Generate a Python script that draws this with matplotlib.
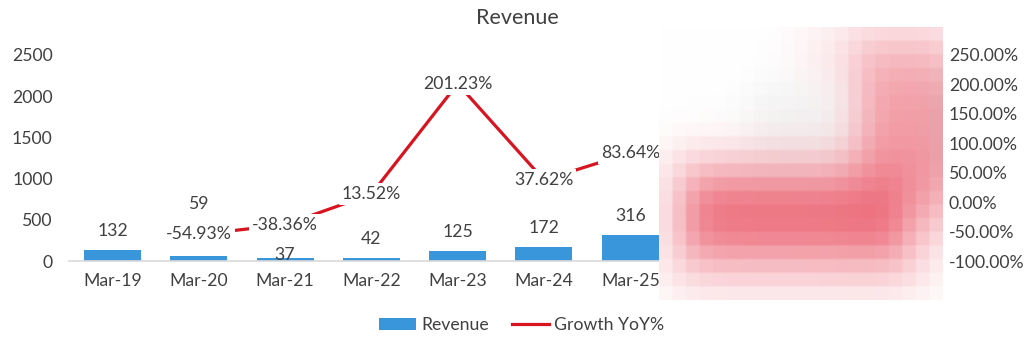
import numpy as np
import matplotlib.pyplot as plt
from matplotlib.patches import Patch
from matplotlib.lines import Line2D

plt.rcParams['font.family'] = ['Lato', 'DejaVu Sans']

categories = ['Mar-19', 'Mar-20', 'Mar-21', 'Mar-22', 'Mar-23', 'Mar-24', 'Mar-25']
revenue = [132, 59, 37, 42, 125, 172, 316]
growth = [None, -54.93, -38.36, 13.52, 201.23, 37.62, 83.64]
n_slots = 10  # the plot area leaves room for three more periods

# vertical nudges (pixels) for the revenue labels so they clear the growth labels
rev_label_offset = [19, 52, 3, 19, 19, 19, 19]

bar_color = '#3a96db'
line_color = '#d7141f'
text_color = '#404040'
fs = 12.7

fig = plt.figure(figsize=(10.29, 3.49), dpi=100)
ax = fig.add_axes([69.3 / 1029, 1 - 261 / 349, 863 / 1029, 206 / 349])
ax2 = ax.twinx()

x = np.arange(len(categories))
ax.bar(x, revenue, width=0.66, color=bar_color, zorder=2)
for xi, v, off in zip(x, revenue, rev_label_offset):
    ax.annotate(str(v), (xi, v), xytext=(0, off), textcoords='offset pixels',
                ha='center', va='center', fontsize=fs, color=text_color)

gx = [xi for xi, g in zip(x, growth) if g is not None]
gy = [g for g in growth if g is not None]
ax2.plot(gx, gy, color=line_color, lw=2.3, zorder=3)
for xi, g in zip(gx, gy):
    ax2.text(xi, g, f'{g:.2f}%', ha='center', va='center', fontsize=fs,
             color=text_color, zorder=4,
             bbox=dict(facecolor='white', edgecolor='none', pad=2))

ax.set_xlim(-0.5, n_slots - 0.5)
ax.set_ylim(0, 2500)
ax.set_yticks(range(0, 2501, 500))
ax2.set_ylim(-100, 250)
ax2.set_yticks(range(-100, 251, 50))
ax2.set_yticklabels([f'{t:.2f}%' for t in range(-100, 251, 50)])
ax.set_xticks(x)
ax.set_xticklabels(categories)

for a in (ax, ax2):
    for s in a.spines.values():
        s.set_visible(False)
    a.tick_params(length=0, labelsize=fs, colors=text_color)
ax.spines['bottom'].set_visible(True)
ax.spines['bottom'].set_color('#d9d9d9')
ax.spines['bottom'].set_linewidth(1.2)
ax.tick_params(axis='y', pad=12)
ax.tick_params(axis='x', pad=9)
ax2.tick_params(axis='y', pad=12)

fig.text(0.503, 1 - 18 / 349, 'Revenue', ha='center', va='center',
         fontsize=15.5, color=text_color)

handles = [Patch(facecolor=bar_color, label='Revenue'),
           Line2D([], [], color=line_color, lw=2.3, label='Growth YoY%')]
leg = fig.legend(handles=handles, loc='center', bbox_to_anchor=(0.507, 1 - 325 / 349),
                 ncol=2, frameon=False, fontsize=fs, handlelength=2.1,
                 handleheight=0.7, columnspacing=1.3, handletextpad=0.3)
for t in leg.get_texts():
    t.set_color(text_color)

# pixelated patch over the right-hand part of the plot
px0, px1, py0, py1 = 659, 943, 27, 300
nx, ny = 21, 20
cx = px0 + (np.arange(nx) + 0.5) * (px1 - px0) / nx
cy = py0 + (np.arange(ny) + 0.5) * (py1 - py0) / ny
X, Y = np.meshgrid(cx, cy)


def box(v, a, b, w):
    return 1 / (1 + np.exp(-(v - a) / w)) / (1 + np.exp(-(b - v) / w))


layers = [
    box(X, 688, 902, 10) * box(Y, 182, 250, 12) * 0.85,  # main band
    box(X, 668, 925, 14) * box(Y, 150, 288, 12) * 0.33,  # band halo
    box(X, 850, 955, 10) * box(Y, 40, 230, 16) * 0.4,    # right column
    box(X, 872, 950, 8) * box(Y, 75, 200, 14) * 0.35,    # right column core
    box(X, 800, 955, 12) * box(Y, 22, 80, 10) * 0.12,    # faint top
]
r = 1 - np.prod([1 - l for l in layers], axis=0)
grey = (box(X, 750, 845, 12) * box(Y, 85, 160, 12)
        + box(X, 928, 960, 5) * box(Y, 80, 170, 12)) * 0.05
deep = np.array([0.92, 0.37, 0.43])
img = 1 - r[..., None] * (1 - deep)
img = img * (1 - grey[..., None])
img = np.repeat(np.repeat(img, 6, axis=0), 6, axis=1)

mask_ax = fig.add_axes([px0 / 1029, 1 - py1 / 349, (px1 - px0) / 1029, (py1 - py0) / 349],
                       zorder=10)
mask_ax.imshow(img, aspect='auto', interpolation='bilinear')
mask_ax.axis('off')

fig.savefig('out.png', dpi=100)
